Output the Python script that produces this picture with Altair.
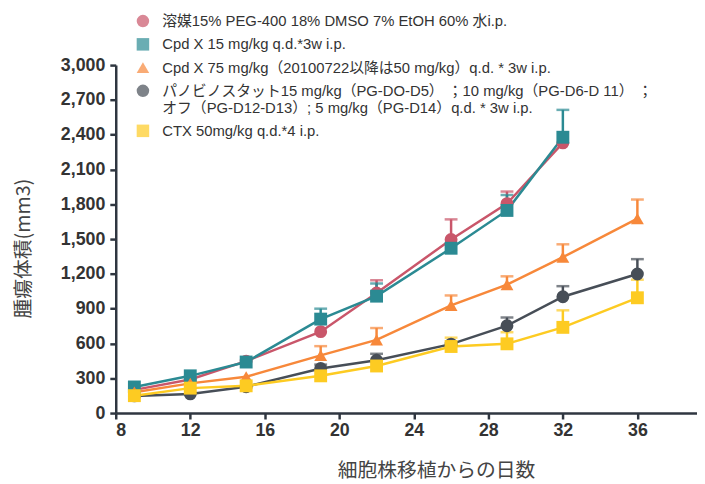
import altair as alt
import pandas as pd

days = [9, 12, 15, 19, 22, 26, 29, 32, 36]

series_names = [
    "溶媒15% PEG-400 18% DMSO 7% EtOH 60% 水i.p.",
    "Cpd X 15 mg/kg q.d.*3w i.p.",
    "Cpd X 75 mg/kg（20100722以降は50 mg/kg）q.d. * 3w i.p.",
    "パノビノスタット15 mg/kg（PG-DO-D5）；10 mg/kg（PG-D6-D 11）；オフ（PG-D12-D13）; 5 mg/kg（PG-D14）q.d. * 3w i.p.",
    "CTX 50mg/kg q.d.*4 i.p.",
]
pano_line1 = "パノビノスタット15 mg/kg（PG-DO-D5） ；10 mg/kg（PG-D6-D 11） ；"
pano_line2 = "オフ（PG-D12-D13）; 5 mg/kg（PG-D14）q.d. * 3w i.p."

vehicle = [200, 290, 448, 702, 1035, 1497, 1806, 2330, None]
cpd15 = [225, 321, 440, 810, 1008, 1421, 1747, 2378, None]
cpd75 = [180, 256, 313, 497, 631, 929, 1108, 1344, 1676]
pano = [148, 165, 227, 384, 455, 594, 753, 1003, 1199]
ctx = [150, 215, 235, 321, 406, 574, 597, 739, 994]

vehicle_up = [None, None, None, None, 1145, 1670, 1910, None, None]
cpd15_up = [None, None, None, 900, 1117, None, 1880, 2614, None]
cpd75_up = [None, None, None, 577, 733, 1014, 1179, 1455, 1841]
pano_up = [None, None, None, 418, 511, None, 824, 1094, 1327]
ctx_up = [None, None, None, None, None, 650, 697, 886, 1150]

colors = ["#C9566A", "#2B8A93", "#F7883A", "#474E57", "#FDCB22"]
shapes = ["circle", "square", "triangle-up", "circle", "square"]

means = [vehicle, cpd15, cpd75, pano, ctx]
ups = [vehicle_up, cpd15_up, cpd75_up, pano_up, ctx_up]

rows = []
err_rows = []
for i, name in enumerate(series_names):
    for d, m, u in zip(days, means[i], ups[i]):
        if m is not None:
            rows.append({"day": d, "vol": m, "group": name, "order": i})
            if u is not None:
                err_rows.append({"day": d, "vol": m, "up": u, "group": name, "order": i})

df = pd.DataFrame(rows)
edf = pd.DataFrame(err_rows)

font_latin = "Liberation Sans, Noto Sans CJK JP"
axis_font = "Liberation Sans Narrow, Liberation Sans"

x_scale = alt.Scale(domain=[8, 39.2], nice=False, zero=False)
y_scale = alt.Scale(domain=[0, 3000], nice=False)
color_scale = alt.Scale(domain=series_names, range=colors)
shape_scale = alt.Scale(domain=series_names, range=shapes)

label_expr = (
    f"datum.label == '{series_names[3]}' ? ['{pano_line1}', '{pano_line2}'] : datum.label"
)

legend = alt.Legend(
    title=None,
    orient="none",
    legendX=20,
    legendY=-52,
    labelFont=font_latin,
    labelFontSize=15,
    labelColor="#333333",
    labelLimit=700,
    labelExpr=label_expr,
    symbolSize=160,
    symbolStrokeWidth=0,
    rowPadding=7.5,
    labelOffset=12,
)

x_axis = alt.Axis(
    values=[8, 12, 16, 20, 24, 28, 32, 36],
    title="細胞株移植からの日数",
    titleX=324,
    titleY=58,
    titleFont="Noto Sans CJK JP",
    titleFontSize=20,
    titleFontWeight="normal",
    titleColor="#444444",
    titleBaseline="middle",
    labelFont=axis_font,
    labelFontSize=18,
    labelFontWeight="bold",
    labelColor="#333333",
    labelPadding=3,
    labelOverlap=False,
    tickSize=6,
    tickWidth=2.5,
    tickColor="#2F3640",
    domainColor="#2F3640",
    domainWidth=2.5,
    grid=False,
)
y_axis = alt.Axis(
    values=list(range(0, 3001, 300)),
    format=",d",
    title="腫瘍体積(mm3)",
    titleX=-93,
    titleY=185,
    titleFont="Noto Sans CJK JP",
    titleFontSize=20,
    titleFontWeight="normal",
    titleColor="#444444",
    titleBaseline="middle",
    titleAlign="center",
    labelFont=axis_font,
    labelFontSize=18,
    labelFontWeight="bold",
    labelColor="#333333",
    labelPadding=5,
    labelOverlap=False,
    tickSize=6,
    tickWidth=2.5,
    tickColor="#2F3640",
    domainColor="#2F3640",
    domainWidth=2.5,
    grid=False,
)

x_enc = alt.X("day:Q", scale=x_scale, axis=x_axis)
y_enc = alt.Y("vol:Q", scale=y_scale, axis=y_axis)
y_up_enc = alt.Y("up:Q", scale=y_scale, axis=y_axis)

color_enc = alt.Color("group:N", scale=color_scale, sort=series_names, legend=legend)
shape_enc = alt.Shape("group:N", scale=shape_scale, sort=series_names, legend=legend)

base_err = alt.Chart(edf)
rules = base_err.mark_rule(strokeWidth=2.5).encode(
    x=x_enc, y=y_enc, y2="up:Q",
    color=color_enc,
)
caps = base_err.mark_tick(orient="horizontal", size=13, thickness=2.5).encode(
    x=x_enc, y=y_up_enc,
    color=color_enc,
)

base = alt.Chart(df)
lines = base.mark_line(strokeWidth=2.5).encode(
    x=x_enc, y=y_enc,
    color=color_enc,
    detail="group:N",
    order="day:Q",
)
points = base.mark_point(filled=True, size=170, opacity=1).encode(
    x=x_enc, y=y_enc,
    color=color_enc,
    shape=shape_enc,
    order="order:Q",
)

chart = (
    alt.layer(rules, caps, lines, points)
    .properties(
        width=588,
        height=352,
        autosize=alt.AutoSizeParams(type="none"),
        padding={"left": 109, "top": 55, "right": 0, "bottom": 70},
        background="white",
    )
    .configure_view(stroke=None)
)

chart.save("out.html", embed_options={"renderer": "svg", "actions": False})
